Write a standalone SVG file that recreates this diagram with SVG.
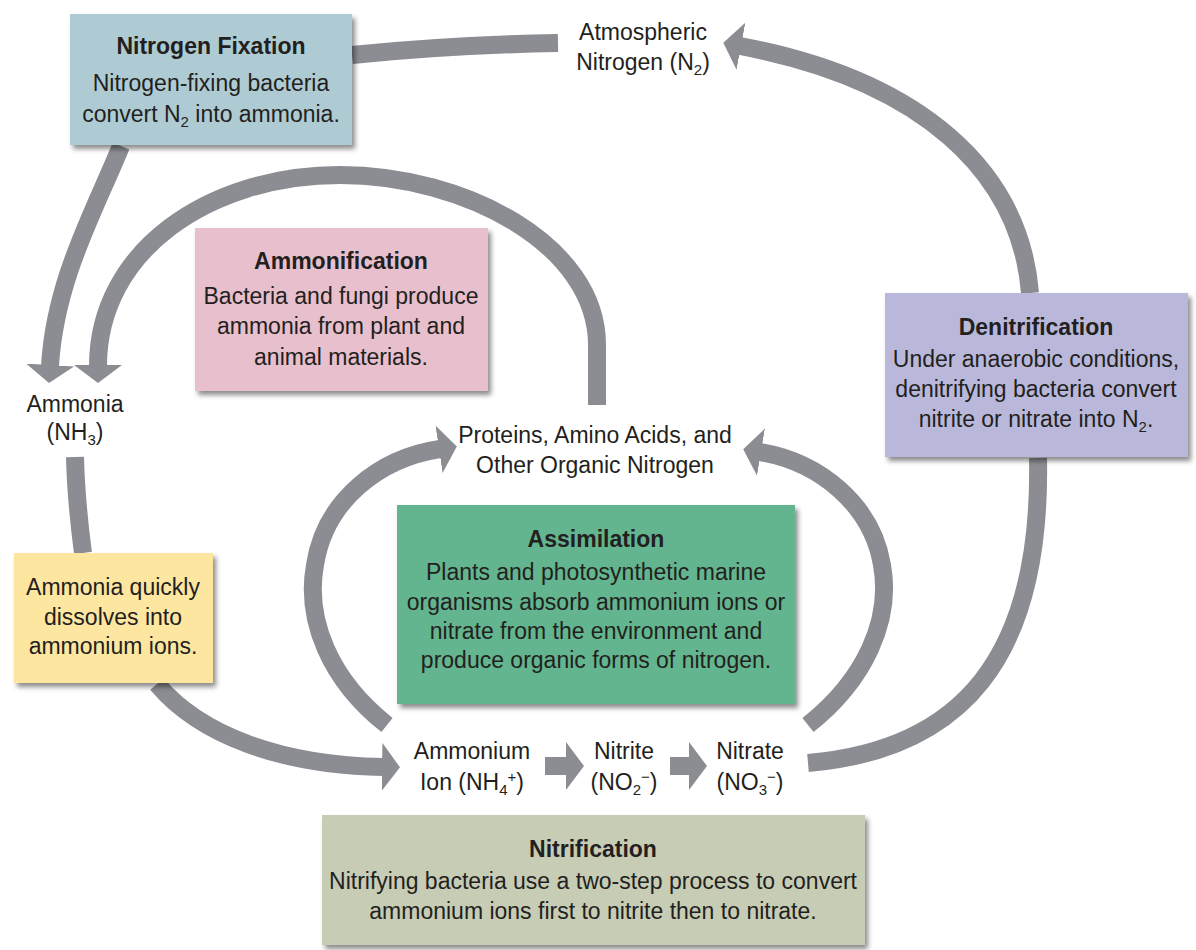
<svg xmlns="http://www.w3.org/2000/svg" width="1196" height="950" viewBox="0 0 1196 950">
<style>
text{font-family:"Liberation Sans",Arial,sans-serif;font-size:23px;fill:#231f20;text-anchor:middle}
.t{font-weight:bold}
.sub{font-size:15px}
.box{filter:url(#sh)}
.c{fill:none;stroke:#8b8d93;stroke-width:18}
.h{marker-end:url(#ah)}
</style>
<defs>
<filter id="sh" x="-10%" y="-10%" width="125%" height="130%">
<feDropShadow dx="3" dy="4" stdDeviation="2.5" flood-color="#000" flood-opacity="0.45"/>
</filter>
<marker id="ah" markerUnits="userSpaceOnUse" markerWidth="18" markerHeight="48" viewBox="0 0 18 48" refX="1" refY="24" orient="auto">
<path d="M0 0 L18 24 L0 48 z" fill="#8b8d93"/>
</marker>
</defs>
<rect width="1196" height="950" fill="#ffffff"/>
<g id="connectors">
<path class="c" d="M352 55 Q450 45 558 43"/>
<path class="c h" d="M121 146 C95 210 55 280 50 366"/>
<path class="c h" d="M597 405 L597 345 C597 245 465 175 340 175 C210 175 98 250 98 366"/>
<path class="c" d="M75 457 C76 500 80 530 83 553"/>
<path class="c h" d="M157 684 C200 735 280 765 383 767"/>
<path class="c h" d="M545 766 L567 766"/>
<path class="c h" d="M670 766 L690 766"/>
<path class="c h" d="M387 725 C330 680 305 620 315 565 C325 500 380 458 440 449"/>
<path class="c h" d="M808 725 C865 680 892 620 882 565 C872 505 820 462 760 452"/>
<path class="c" d="M808 763 C960 750 1042 660 1038 458"/>
<path class="c h" d="M1030 293 C1020 170 920 80 740 46"/>
</g>
<g id="nitrogen-fixation">
<rect class="box" x="70" y="14" width="282" height="131" fill="#aecbd3"/>
<text class="t" x="211" y="54">Nitrogen Fixation</text>
<text x="211" y="91">Nitrogen-fixing bacteria</text>
<text x="211" y="122">convert N<tspan class="sub" dy="5">2</tspan><tspan dy="-5"> into ammonia.</tspan></text>
</g>
<g id="atmospheric-nitrogen">
<text x="643" y="40">Atmospheric</text>
<text x="643" y="70">Nitrogen (N<tspan class="sub" dy="5">2</tspan><tspan dy="-5">)</tspan></text>
</g>
<g id="ammonification">
<rect class="box" x="195" y="228" width="293" height="163" fill="#e8bfcd"/>
<text class="t" x="341" y="269">Ammonification</text>
<text x="341" y="304">Bacteria and fungi produce</text>
<text x="341" y="334">ammonia from plant and</text>
<text x="341" y="365">animal materials.</text>
</g>
<g id="ammonia">
<text x="75" y="412">Ammonia</text>
<text x="75" y="440">(NH<tspan class="sub" dy="5">3</tspan><tspan dy="-5">)</tspan></text>
</g>
<g id="denitrification">
<rect class="box" x="885" y="293" width="303" height="164" fill="#b9b8db"/>
<text class="t" x="1036" y="335">Denitrification</text>
<text x="1036" y="367">Under anaerobic conditions,</text>
<text x="1036" y="397">denitrifying bacteria convert</text>
<text x="1036" y="427">nitrite or nitrate into N<tspan class="sub" dy="5">2</tspan><tspan dy="-5">.</tspan></text>
</g>
<g id="organic-nitrogen">
<text x="595" y="443">Proteins, Amino Acids, and</text>
<text x="595" y="473">Other Organic Nitrogen</text>
</g>
<g id="assimilation">
<rect class="box" x="397" y="505" width="398" height="199" fill="#62b58e"/>
<text class="t" x="596" y="547">Assimilation</text>
<text x="596" y="580">Plants and photosynthetic marine</text>
<text x="596" y="610">organisms absorb ammonium ions or</text>
<text x="596" y="639">nitrate from the environment and</text>
<text x="596" y="668">produce organic forms of nitrogen.</text>
</g>
<g id="dissolve">
<rect class="box" x="14" y="553" width="199" height="130" fill="#fde6a0"/>
<text x="113" y="595">Ammonia quickly</text>
<text x="113" y="625">dissolves into</text>
<text x="113" y="654">ammonium ions.</text>
</g>
<g id="ammonium">
<text x="472" y="759">Ammonium</text>
<text x="472" y="790">Ion (NH<tspan class="sub" dy="5">4</tspan><tspan class="sub" dy="-13">+</tspan><tspan dy="8">)</tspan></text>
</g>
<g id="nitrite">
<text x="624" y="759">Nitrite</text>
<text x="624" y="790">(NO<tspan class="sub" dy="5">2</tspan><tspan class="sub" dy="-13">−</tspan><tspan dy="8">)</tspan></text>
</g>
<g id="nitrate">
<text x="750" y="759">Nitrate</text>
<text x="750" y="790">(NO<tspan class="sub" dy="5">3</tspan><tspan class="sub" dy="-13">−</tspan><tspan dy="8">)</tspan></text>
</g>
<g id="nitrification">
<rect class="box" x="322" y="815" width="543" height="130" fill="#c7ccb5"/>
<text class="t" x="593" y="857">Nitrification</text>
<text x="593" y="889">Nitrifying bacteria use a two-step process to convert</text>
<text x="593" y="919">ammonium ions first to nitrite then to nitrate.</text>
</g>
</svg>
